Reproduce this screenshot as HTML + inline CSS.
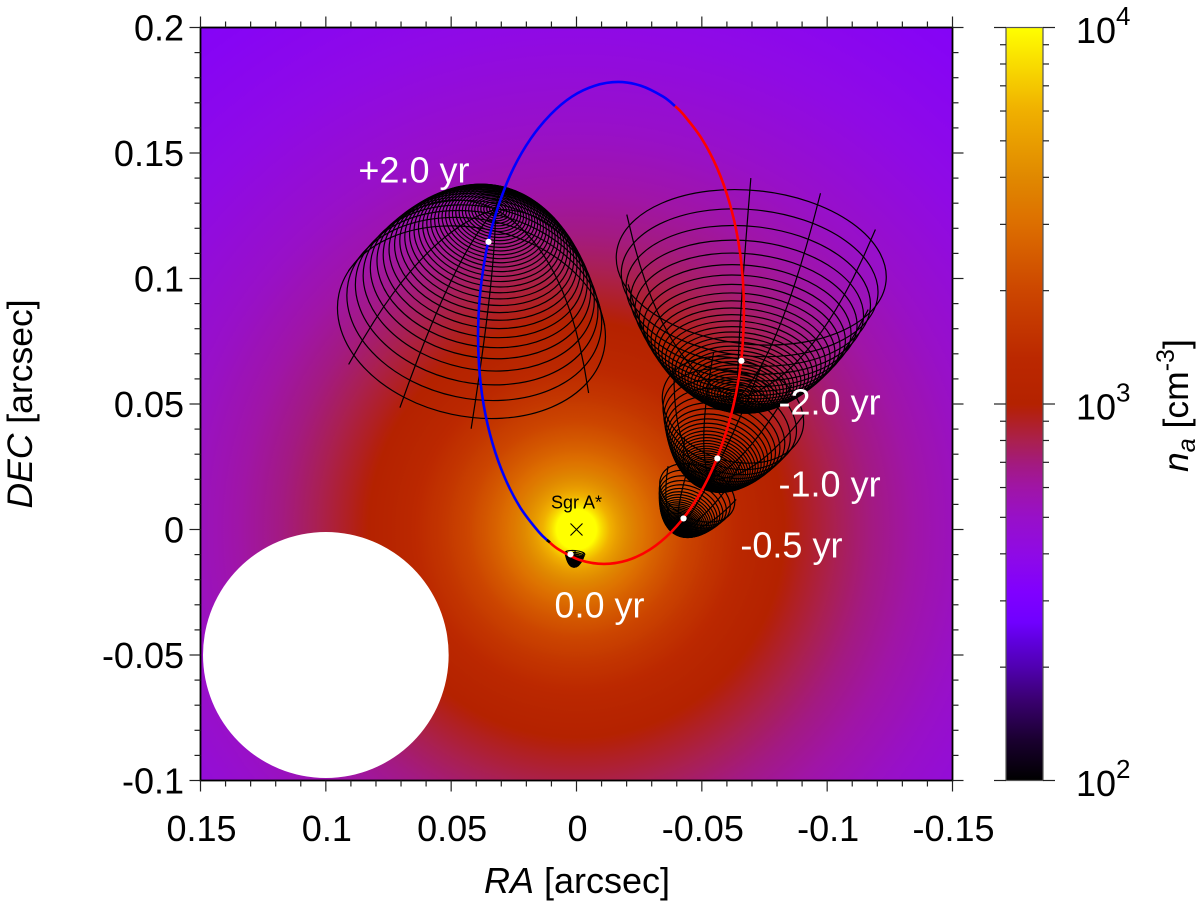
<!DOCTYPE html>
<html>
<head>
<meta charset="utf-8">
<title>Bow shock along orbit around Sgr A*</title>
<style>
html,body{margin:0;padding:0;background:#fff}
svg{display:block;font-family:"Liberation Sans",sans-serif}
</style>
</head>
<body>
<svg id="chart" xmlns="http://www.w3.org/2000/svg" width="1200" height="907" viewBox="0 0 1200 907">
<defs id="defs">
<clipPath id="plot-clip"><rect x="200.5" y="27.5" width="752" height="753"/></clipPath>
</defs>
<g id="bg" clip-path="url(#plot-clip)"></g>
<g id="marks" clip-path="url(#plot-clip)"></g>
<g id="axes"></g>
<g id="bar"></g>
<g id="labels"></g>
</svg>
<script>
// ---- axis domains ----
const raDomain = [0.15, -0.15];
const decDomain = [-0.1, 0.2];
const logDomain = [2, 4];

// ---- tick values and labels ----
const xMajorTicks = [0.15, 0.1, 0.05, 0, -0.05, -0.1, -0.15];
const xTickLabels = ["0.15", "0.1", "0.05", "0", "-0.05", "-0.1", "-0.15"];
const yMajorTicks = [-0.1, -0.05, 0, 0.05, 0.1, 0.15, 0.2];
const yTickLabels = ["-0.1", "-0.05", "0", "0.05", "0.1", "0.15", "0.2"];
const barDecades = [2, 3, 4];
const barMinorMultipliers = [2, 3, 4, 5, 6, 7, 8, 9];

// ---- colour map (fraction of colour bar, colour) ----
const cmapFrac = [0, .054, .107, .15, .187, .21, .25, .30, .35, .39, .42, .45, .49, .5, .56, .65, .74, .80, .89, 1];
const cmapColor = ["#000000", "#1a0030", "#3a0070", "#5000b0", "#6000e0", "#7000ff", "#8000ff", "#8f0ae6", "#9810c8", "#a015a5", "#a31a80", "#aa2050", "#b3200f", "#b42200", "#bb2800", "#cc4600", "#dd6f00", "#e08800", "#f0b000", "#ffff00"];

// ---- density profile (radius from Sgr A* in arcsec, density in cm^-3) ----
const densityRadius = [0.001, 0.008, 0.012, 0.016, 0.024, 0.04, 0.06, 0.08, 0.1, 0.12, 0.155, 0.2, 0.26];
const densityValue = [10000, 10000, 6800, 5100, 3500, 2150, 1420, 1040, 820, 675, 516, 400, 330];

// ---- masked region ----
const maskRA = [0.1];
const maskDEC = [-0.05];
const maskRadius = [0.049];

// ---- orbit ----
const orbitBlueRA = [.0113, .0151, .0224, .0286, .0335, .0370, .0389, .0392, .0379, .0351, .0307, .0251, .0182, .0103, .0018, -.0073, -.0166, -.0257, -.0345, -.0393];
const orbitBlueDEC = [-.0046, -.0009, .0087, .0206, .0343, .0494, .0656, .0823, .0989, .1151, .1303, .1440, .1558, .1654, .1725, .1768, .1783, .1768, .1725, .1687];
const orbitRedRA = [-.0393, -.0426, -.0499, -.0561, -.0610, -.0645, -.0664, -.0667, -.0655, -.0626, -.0582, -.0526, -.0457, -.0379, -.0293, -.0202, -.0110, -.0018, .0070, .0113];
const orbitRedDEC = [.1687, .1654, .1558, .1440, .1303, .1151, .0989, .0823, .0656, .0494, .0343, .0206, .0087, -.0009, -.0080, -.0123, -.0137, -.0123, -.0080, -.0046];
const orbitJoinRA = [.0118, .0106];
const orbitJoinDEC = [-.0042, -.0051];

// ---- star epochs ----
const epochNames = ["plus-2yr", "minus-2yr", "minus-1yr", "minus-0p5yr", "zero-yr"];
const starRA = [.0351, -.0658, -.0562, -.0427, .0024];
const starDEC = [.1146, .0672, .0283, .0044, -.0099];

// ---- bow shock parameters, one entry per epoch ----
const shockRA = [.0351, -.0658, -.0550, -.0425, .0010];
const shockDEC = [.1146, .0672, .0261, .0030, -.0137];
const shockStandoff = [.0183, .0183, .0088, .0048, .0012];
const shockTiltDeg = [192, 6, 19, 26, 5];
const shockSinIncl = [.72, .824, .72, .75, .95];
const shockRibAzimuth = [
  [158, 99, 68, 37, 200, 270, 340],
  [158, 94, 64, 31, 210, 270, 330],
  [160, 120, 80, 50, 20, -20, -70, -120],
  [160, 120, 80, 50, 20, -20, -70, -120],
  [150, 90, 30]
];
const shockRingCount = [36, 36, 36, 36, 36];
const shockRingAngleMax = [2.27, 2.27, 2.4, 2.4, 2.4];
const shockRibAngleMax = [2.305, 2.305, 2.42, 2.42, 2.4];

// ---- annotations ----
const epochLabels = ["+2.0 yr", "-2.0 yr", "-1.0 yr", "-0.5 yr", "0.0 yr"];
const epochLabelRA = [.0870, -.0806, -.0806, -.0654, .0088];
const epochLabelDEC = [.1382, .0458, .0132, -.0111, -.0350];
const sourceRA = [0];
const sourceDEC = [0];

// ---- layout ----
const NS = "http://www.w3.org/2000/svg";
const plotL = 200.5, plotR = 952.5, plotT = 27.5, plotB = 780.5;
const barL = 1006, barR = 1043;
const TICK_FONT = 36;

const xPx = ra => plotL + (ra - raDomain[0]) / (raDomain[1] - raDomain[0]) * (plotR - plotL);
const yPx = dec => plotB - (dec - decDomain[0]) / (decDomain[1] - decDomain[0]) * (plotB - plotT);
const barY = log => plotB - (log - logDomain[0]) / (logDomain[1] - logDomain[0]) * (plotB - plotT);
const sx = Math.abs(xPx(1) - xPx(0));
const sy = Math.abs(yPx(1) - yPx(0));

function make(tag, attrs, parent) {
  const el = document.createElementNS(NS, tag);
  for (const k in attrs) el.setAttribute(k, attrs[k]);
  parent.appendChild(el);
  return el;
}
function hexToRgb(h) { return [1, 3, 5].map(i => parseInt(h.substr(i, 2), 16)); }
function cmap(f) {
  f = Math.max(0, Math.min(1, f));
  for (let i = 1; i < cmapFrac.length; i++) {
    if (f <= cmapFrac[i]) {
      const t = (f - cmapFrac[i - 1]) / (cmapFrac[i] - cmapFrac[i - 1]);
      const a = hexToRgb(cmapColor[i - 1]), b = hexToRgb(cmapColor[i]);
      return "rgb(" + a.map((v, j) => Math.round(v + (b[j] - v) * t)).join(",") + ")";
    }
  }
  return cmapColor[cmapColor.length - 1];
}
function densityAt(r) {
  const lr = Math.log10(Math.max(r, densityRadius[0]));
  for (let i = 1; i < densityRadius.length; i++) {
    if (r <= densityRadius[i]) {
      const a = Math.log10(densityRadius[i - 1]), b = Math.log10(densityRadius[i]);
      const t = (lr - a) / (b - a);
      return Math.log10(densityValue[i - 1]) + t * (Math.log10(densityValue[i]) - Math.log10(densityValue[i - 1]));
    }
  }
  return Math.log10(densityValue[densityValue.length - 1]);
}
function splinePath(ras, decs) {
  const p = ras.map((ra, i) => [xPx(ra), yPx(decs[i])]);
  let d = "M" + p[0][0].toFixed(2) + " " + p[0][1].toFixed(2);
  for (let i = 0; i < p.length - 1; i++) {
    const p0 = p[Math.max(i - 1, 0)], p1 = p[i], p2 = p[i + 1], p3 = p[Math.min(i + 2, p.length - 1)];
    d += "C" + (p1[0] + (p2[0] - p0[0]) / 6).toFixed(2) + " " + (p1[1] + (p2[1] - p0[1]) / 6).toFixed(2) + " " +
         (p2[0] - (p3[0] - p1[0]) / 6).toFixed(2) + " " + (p2[1] - (p3[1] - p1[1]) / 6).toFixed(2) + " " +
         p2[0].toFixed(2) + " " + p2[1].toFixed(2);
  }
  return d;
}

const defs = document.getElementById("defs");
const bg = document.getElementById("bg");
const marks = document.getElementById("marks");
const axes = document.getElementById("axes");
const bar = document.getElementById("bar");
const labels = document.getElementById("labels");

// ---- density background ----
const radialRange = 0.262;
const radial = make("radialGradient", { id: "density-gradient", gradientUnits: "userSpaceOnUse", cx: xPx(0), cy: yPx(0), r: radialRange * sx }, defs);
for (let i = 0; i <= 160; i++) {
  const f = i / 160;
  const logN = densityAt(Math.pow(f, 1.6) * radialRange);
  make("stop", { offset: Math.pow(f, 1.6).toFixed(5), "stop-color": cmap((logN - logDomain[0]) / (logDomain[1] - logDomain[0])) }, radial);
}
const bgRect = make("rect", { x: plotL, y: plotT, width: plotR - plotL, height: plotB - plotT, fill: "url(#density-gradient)" }, bg);



maskRA.forEach((ra, i) => {
  const c = make("ellipse", { cx: xPx(ra), cy: yPx(maskDEC[i]), rx: maskRadius[i] * sx, ry: maskRadius[i] * sy, fill: "#fff" }, bg);
  
  
});

// ---- bow shocks ----
function shockProfile(theta) {
  const t = Math.max(theta, 0.001);
  const w = Math.sqrt(3 * (1 - t / Math.tan(t)));
  return { w: w, z: -w / Math.tan(t) };
}
epochNames.forEach((name, s) => {
  const g = make("g", { fill: "none", stroke: "#000", "stroke-width": 1.2 }, marks);
  
  
  const t = shockTiltDeg[s] * Math.PI / 180;
  const sinI = shockSinIncl[s], cosI = Math.sqrt(1 - sinI * sinI);
  const aRa = -Math.sin(t), aDec = Math.cos(t), uRa = -Math.cos(t), uDec = -Math.sin(t);
  const R0 = shockStandoff[s];
  for (let i = 1; i <= shockRingCount[s]; i++) {
    const p = shockProfile(i / shockRingCount[s] * shockRingAngleMax[s]);
    const cx = xPx(shockRA[s] + aRa * p.z * R0 * sinI);
    const cy = yPx(shockDEC[s] + aDec * p.z * R0 * sinI);
    const ring = make("ellipse", { cx: cx.toFixed(2), cy: cy.toFixed(2), rx: (p.w * R0 * sx).toFixed(2), ry: (p.w * R0 * cosI * sy).toFixed(2), transform: "rotate(" + shockTiltDeg[s] + " " + cx.toFixed(2) + " " + cy.toFixed(2) + ")" }, g);
    
    
  }
  shockRibAzimuth[s].forEach(az => {
    const phi = az * Math.PI / 180;
    let d = "";
    for (let k = 0; k <= 24; k++) {
      const p = shockProfile(k / 24 * shockRibAngleMax[s]);
      const along = p.z * sinI + p.w * Math.sin(phi) * cosI;
      const across = p.w * Math.cos(phi);
      const ra = shockRA[s] + R0 * (aRa * along + uRa * across);
      const dec = shockDEC[s] + R0 * (aDec * along + uDec * across);
      d += (k ? "L" : "M") + xPx(ra).toFixed(2) + " " + yPx(dec).toFixed(2);
    }
    const rib = make("path", { d: d }, g);
    
    
  });
});

// ---- orbit ----
const orbitBlue = make("path", { d: splinePath(orbitBlueRA, orbitBlueDEC), fill: "none", stroke: "#0000ff", "stroke-width": 2.6 }, marks);


const orbitRed = make("path", { d: splinePath(orbitRedRA, orbitRedDEC), fill: "none", stroke: "#ff0000", "stroke-width": 2.6 }, marks);


const orbitJoin = make("path", { d: splinePath(orbitJoinRA, orbitJoinDEC), fill: "none", stroke: "#000", "stroke-width": 2.6 }, marks);



// ---- star dots ----
starRA.forEach((ra, i) => {
  const dot = make("circle", { cx: xPx(ra), cy: yPx(starDEC[i]), r: 3.1, fill: "#fff" }, marks);
  
  
});

// ---- Sgr A* marker ----
sourceRA.forEach((ra, i) => {
  const cx = xPx(ra), cy = yPx(sourceDEC[i]);
  const m = make("path", { d: "M" + (cx - 6) + " " + (cy - 6) + "L" + (cx + 6) + " " + (cy + 6) + "M" + (cx - 6) + " " + (cy + 6) + "L" + (cx + 6) + " " + (cy - 6), stroke: "#000", "stroke-width": 1.1, fill: "none" }, marks);
  
  
  const tx = make("text", { x: cx, y: cy - 21, "text-anchor": "middle", "font-size": 18, fill: "#000" }, labels);
  tx.textContent = "Sgr A*";
  
  
});

// ---- axes ----
function tickLine(parent, x1, y1, x2, y2, name) {
  const l = make("line", { x1: x1, y1: y1, x2: x2, y2: y2, stroke: "#222", "stroke-width": 1.2 }, parent);
  
  
}
const frame = make("rect", { x: plotL, y: plotT, width: plotR - plotL, height: plotB - plotT, fill: "none", stroke: "#000", "stroke-width": 1.8 }, axes);



for (let i = 0; i <= 30; i++) {
  const ra = raDomain[0] - i * 0.01;
  const major = i % 5 === 0, len = major ? 11 : 6, px = xPx(ra);
  tickLine(axes, px, plotB, px, plotB + len, major ? "x-major-tick" : "x-minor-tick");
  tickLine(axes, px, plotT, px, plotT - len, major ? "x-top-major-tick" : "x-top-minor-tick");
}
for (let i = 0; i <= 30; i++) {
  const dec = decDomain[0] + i * 0.01;
  const major = i % 5 === 0, len = major ? 11 : 6, py = yPx(dec);
  tickLine(axes, plotL, py, plotL - len, py, major ? "y-major-tick" : "y-minor-tick");
  tickLine(axes, plotR, py, plotR + len, py, major ? "y-right-major-tick" : "y-right-minor-tick");
}
xMajorTicks.forEach((v, i) => {
  const t = make("text", { x: xPx(v) + 1, y: 841, "text-anchor": "middle", "font-size": TICK_FONT, fill: "#000" }, labels);
  t.textContent = xTickLabels[i];
  
  
});
yMajorTicks.forEach((v, i) => {
  const t = make("text", { x: 184, y: yPx(v) + 13, "text-anchor": "end", "font-size": TICK_FONT, fill: "#000" }, labels);
  t.textContent = yTickLabels[i];
  
  
});

const xTitle = make("text", { x: 577, y: 893, "text-anchor": "middle", "font-size": 36, fill: "#000" }, labels);


make("tspan", { "font-style": "italic" }, xTitle).textContent = "RA";
make("tspan", {}, xTitle).textContent = " [arcsec]";

const yTitle = make("text", { transform: "translate(32 404) rotate(-90)", "text-anchor": "middle", "font-size": 35.5, fill: "#000" }, labels);


make("tspan", { "font-style": "italic" }, yTitle).textContent = "DEC";
make("tspan", {}, yTitle).textContent = " [arcsec]";

// ---- colour bar ----
const linear = make("linearGradient", { id: "bar-gradient", x1: 0, y1: 1, x2: 0, y2: 0 }, defs);
cmapFrac.forEach((f, i) => make("stop", { offset: f, "stop-color": cmapColor[i] }, linear));
const barRect = make("rect", { x: barL, y: plotT, width: barR - barL, height: plotB - plotT, fill: "url(#bar-gradient)", stroke: "#555", "stroke-width": 1.2 }, bar);


barDecades.forEach((dec, i) => {
  const py = barY(dec);
  tickLine(bar, barL - 12, py, barL, py, 'colorbar-major-tick');
  tickLine(bar, barR, py, barR + 12, py, 'colorbar-major-tick');
  if (i < barDecades.length - 1) {
    barMinorMultipliers.forEach(m => {
      const my = barY(dec + Math.log10(m));
      tickLine(bar, barL - 6, my, barL, my, 'colorbar-minor-tick');
      tickLine(bar, barR, my, barR + 6, my, 'colorbar-minor-tick');
    });
  }
  const t = make("text", { x: 1076, y: py + 15.5, "font-size": TICK_FONT, fill: "#000" }, labels);
  
  
  make("tspan", {}, t).textContent = "10";
  make("tspan", { "font-size": 26, dy: -18 }, t).textContent = String(dec);
});
const barTitle = make("text", { transform: "translate(1188 472) rotate(-90)", "font-size": 35.5, fill: "#000" }, labels);


make("tspan", { "font-style": "italic" }, barTitle).textContent = "n";
make("tspan", { "font-style": "italic", "font-size": 25, dy: 7 }, barTitle).textContent = "a";
make("tspan", { dy: -7 }, barTitle).textContent = " [cm";
make("tspan", { "font-size": 25, dy: -14 }, barTitle).textContent = "-3";
make("tspan", { dy: 14 }, barTitle).textContent = "]";

// ---- epoch annotations ----
epochLabels.forEach((s, i) => {
  const t = make("text", { x: xPx(epochLabelRA[i]), y: yPx(epochLabelDEC[i]), "font-size": 36, fill: "#fff" }, labels);
  t.textContent = s;
  
  
});
</script>
</body>
</html>
